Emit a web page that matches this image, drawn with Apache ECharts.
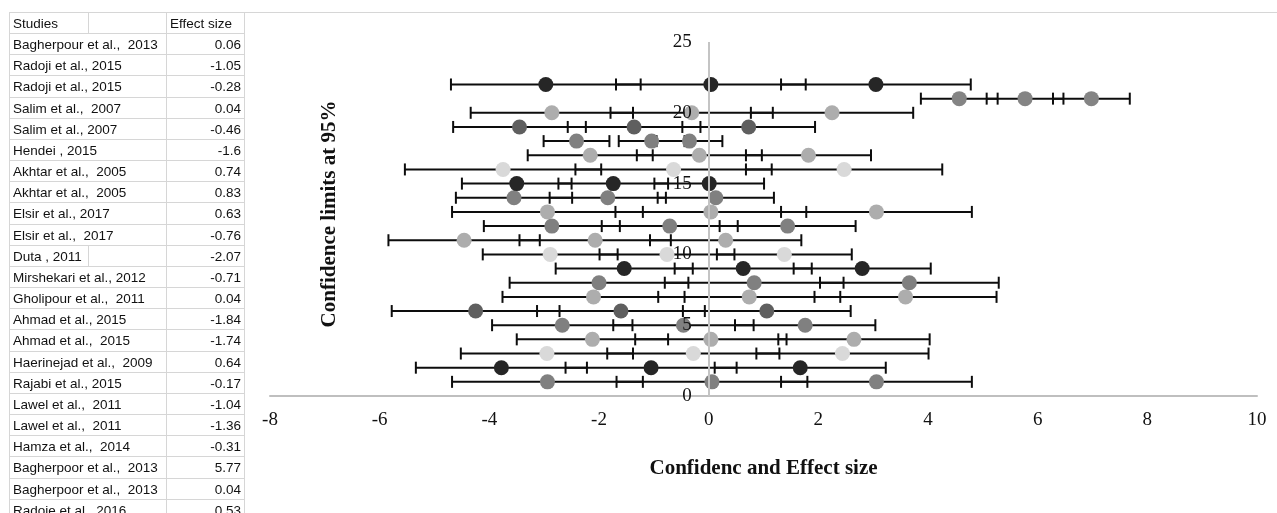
<!DOCTYPE html>
<html>
<head>
<meta charset="utf-8">
<script src="https://cdn.jsdelivr.net/npm/echarts@6/dist/echarts.min.js"></script>
<style>
  html, body { margin: 0; padding: 0; background: #fff; }
  #wrap { position: relative; width: 1277px; height: 513px; overflow: hidden; }
  #chart { position: absolute; left: 0; top: 0; width: 1277px; height: 513px; }
  #sheet { position: absolute; left: 0; top: 0; width: 1277px; height: 513px; pointer-events: none;
           font-family: "Liberation Sans", Arial, sans-serif; font-size: 13.5px; color: #111; }
  .cell { position: absolute; white-space: pre; line-height: 21px; height: 21px; }
  .hl { position: absolute; height: 1px; background: #d6d6d6; }
  .vl { position: absolute; width: 1px; background: #d6d6d6; }
</style>
</head>
<body>
<div id="wrap">
  <div id="chart"></div>
  <div id="sheet"></div>
</div>
<script>
// ---- spreadsheet listing ----
const studies = [
  "Bagherpour et al.,  2013", "Radoji et al., 2015", "Radoji et al., 2015",
  "Salim et al.,  2007", "Salim et al., 2007", "Hendei , 2015",
  "Akhtar et al.,  2005", "Akhtar et al.,  2005", "Elsir et al., 2017",
  "Elsir et al.,  2017", "Duta , 2011", "Mirshekari et al., 2012",
  "Gholipour et al.,  2011", "Ahmad et al., 2015", "Ahmad et al.,  2015",
  "Haerinejad et al.,  2009", "Rajabi et al., 2015", "Lawel et al.,  2011",
  "Lawel et al.,  2011", "Hamza et al.,  2014", "Bagherpoor et al.,  2013",
  "Bagherpoor et al.,  2013", "Radoje et al., 2016"
];
const effectSizes = [
  0.06, -1.05, -0.28, 0.04, -0.46, -1.6, 0.74, 0.83, 0.63, -0.76, -2.07, -0.71,
  0.04, -1.84, -1.74, 0.64, -0.17, -1.04, -1.36, -0.31, 5.77, 0.04, 0.53
];
const tableHeader = ["Studies", "Effect size"];

// ---- plotted rows (bottom to top) ----
const rowLevel    = [1, 2, 3, 4, 5, 6, 7, 8, 9, 10, 11, 12, 13, 14, 15, 16, 17, 18, 19, 20, 21, 22];
const lowerPoint  = [-2.94, -3.78, -2.95, -2.12, -2.67, -4.25, -2.10, -2.00, -1.54, -2.89, -4.46,
                     -2.86, -2.94, -3.55, -3.50, -3.75, -2.16, -2.41, -3.45, -2.86, 4.57, -2.97];
const effectPoint = [0.06, -1.05, -0.28, 0.04, -0.46, -1.60, 0.74, 0.83, 0.63, -0.76, -2.07,
                     -0.71, 0.04, -1.84, -1.74, -0.64, -0.17, -1.04, -1.36, -0.31, 5.77, 0.04];
const upperPoint  = [3.06, 1.67, 2.44, 2.65, 1.76, 1.06, 3.59, 3.66, 2.80, 1.38, 0.31,
                     1.44, 3.06, 0.13, 0.01, 2.47, 1.82, -0.35, 0.73, 2.25, 6.98, 3.05];
const halfWidth   = [1.74, 1.56, 1.57, 1.38, 1.28, 1.53, 1.66, 1.63, 1.25, 1.23, 1.38,
                     1.24, 1.74, 1.06, 1.00, 1.79, 1.14, 0.60, 1.21, 1.48, 0.70, 1.73];

// axis ranges
const xRange = [-8, 10], xStep = 2;
const yRange = [0, 25], yStep = 5;

// grey shade used for each plotted row
const rowShades = ["#808080", "#262626", "#d9d9d9", "#adadad", "#808080", "#5f5f5f",
                   "#adadad", "#808080", "#262626", "#d9d9d9", "#adadad", "#808080",
                   "#adadad", "#808080", "#262626", "#d9d9d9", "#adadad", "#808080",
                   "#5f5f5f", "#adadad", "#848484", "#262626"];

// ---- build the spreadsheet block ----
(function buildSheet() {
  const sheet = document.getElementById('sheet');
  const top0 = 12, rowH = 21.16, left = 9, colB = 88, colC = 166, right = 244;
  const nRows = studies.length + 1;
  function add(cls, css, text) {
    const d = document.createElement('div');
    d.className = cls;
    Object.assign(d.style, css);
    if (text != null) d.textContent = text;
    sheet.appendChild(d);
  }
  // top rule running across the sheet
  add('hl', { left: left + 'px', top: top0 + 'px', width: (1277 - left) + 'px' });
  for (let k = 1; k <= nRows; k++) {
    add('hl', { left: left + 'px', top: Math.round(top0 + k * rowH) + 'px', width: (right - left + 1) + 'px' });
  }
  [left, colC, right].forEach(x => add('vl', { left: x + 'px', top: top0 + 'px', height: (513 - top0) + 'px' }));
  // split between the first two columns shows only where the text does not spill over
  [0, 11].forEach(k => add('vl', { left: colB + 'px', top: Math.round(top0 + k * rowH) + 'px', height: Math.round(rowH) + 'px' }));

  add('cell', { left: (left + 4) + 'px', top: (top0 + 1) + 'px' }, tableHeader[0]);
  add('cell', { left: (colC + 4) + 'px', top: (top0 + 1) + 'px' }, tableHeader[1]);
  studies.forEach((name, i) => {
    const y = Math.round(top0 + (i + 1) * rowH) + 1;
    add('cell', { left: (left + 4) + 'px', top: y + 'px' }, name);
    add('cell', { left: colC + 'px', top: y + 'px', width: (right - colC - 3) + 'px', textAlign: 'right' },
        String(effectSizes[i]));
  });
})();

// ---- chart ----
const chart = echarts.init(document.getElementById('chart'), null, { renderer: 'canvas' });

const gridBox = { left: 270, right: 20, top: 42, bottom: 117 };
const plotWidth = 1277 - gridBox.left - gridBox.right;
// shift the vertical axis inward so it stands at x = 0
const yAxisShift = -plotWidth * (0 - xRange[0]) / (xRange[1] - xRange[0]);

const barData = [];
[lowerPoint, effectPoint, upperPoint].forEach(set => {
  set.forEach((x, i) => barData.push([x, rowLevel[i], halfWidth[i]]));
});

function pointSeries(name, set) {
  return {
    type: 'scatter',
    name: name,
    symbol: 'circle',
    symbolSize: 15,
    z: 4,
    silent: true,
    itemStyle: { opacity: 1 },
    data: set.map((x, i) => ({ value: [x, rowLevel[i]], itemStyle: { color: rowShades[i], opacity: 1 } }))
  };
}

const serif = '"Liberation Serif", "Times New Roman", serif';

chart.setOption({
  animation: false,
  backgroundColor: 'transparent',
  grid: Object.assign({ containLabel: false, outerBoundsMode: 'none' }, gridBox),
  xAxis: {
    type: 'value', min: xRange[0], max: xRange[1], interval: xStep,
    axisLine: { show: true, lineStyle: { color: '#bfbfbf', width: 2 } },
    axisTick: { show: false },
    splitLine: { show: false },
    axisLabel: { fontFamily: serif, fontSize: 19, color: '#111', margin: 15 },
    name: 'Confidenc and Effect size',
    nameLocation: 'middle',
    nameGap: 62,
    nameTextStyle: { fontFamily: serif, fontSize: 21, fontWeight: 'bold', color: '#111' }
  },
  yAxis: {
    // tick numbers sit above the markers; the visible rule is drawn underneath by a marker line
    type: 'value', min: yRange[0], max: yRange[1], interval: yStep, z: 10,
    position: 'left',
    offset: yAxisShift,
    axisLine: { show: false, onZero: false },
    axisTick: { show: false },
    splitLine: { show: false },
    axisLabel: { fontFamily: serif, fontSize: 19, color: '#111', margin: 17 },
    name: 'Confidence limits at 95%',
    nameLocation: 'middle',
    nameGap: 369,
    nameRotate: 90,
    nameTextStyle: { fontFamily: serif, fontSize: 21, fontWeight: 'bold', color: '#111', padding: [0, 0, 0, 10] }
  },
  series: [
    {
      type: 'line',
      name: 'vertical axis rule',
      data: [],
      z: 1,
      silent: true,
      markLine: {
        silent: true,
        symbol: ['none', 'none'],
        label: { show: false },
        lineStyle: { color: '#c4c4c4', width: 2, type: 'solid' },
        data: [{ xAxis: 0 }]
      }
    },
    {
      type: 'custom',
      name: 'confidence bars',
      z: 3,
      silent: true,
      clip: false,
      encode: { x: 0, y: 1 },
      data: barData,
      renderItem: function (params, api) {
        const c = api.value(0), y = api.value(1), w = api.value(2);
        const a = api.coord([c - w, y]);
        const b = api.coord([c + w, y]);
        const cap = 6;
        const style = { stroke: '#0d0d0d', lineWidth: 2 };
        return {
          type: 'group',
          children: [
            { type: 'line', shape: { x1: a[0], y1: a[1], x2: b[0], y2: b[1] }, style: style },
            { type: 'line', shape: { x1: a[0], y1: a[1] - cap, x2: a[0], y2: a[1] + cap }, style: style },
            { type: 'line', shape: { x1: b[0], y1: b[1] - cap, x2: b[0], y2: b[1] + cap }, style: style }
          ]
        };
      }
    },
    pointSeries('Lower', lowerPoint),
    pointSeries('Effect size', effectPoint),
    pointSeries('Upper', upperPoint)
  ]
});
</script>
</body>
</html>
